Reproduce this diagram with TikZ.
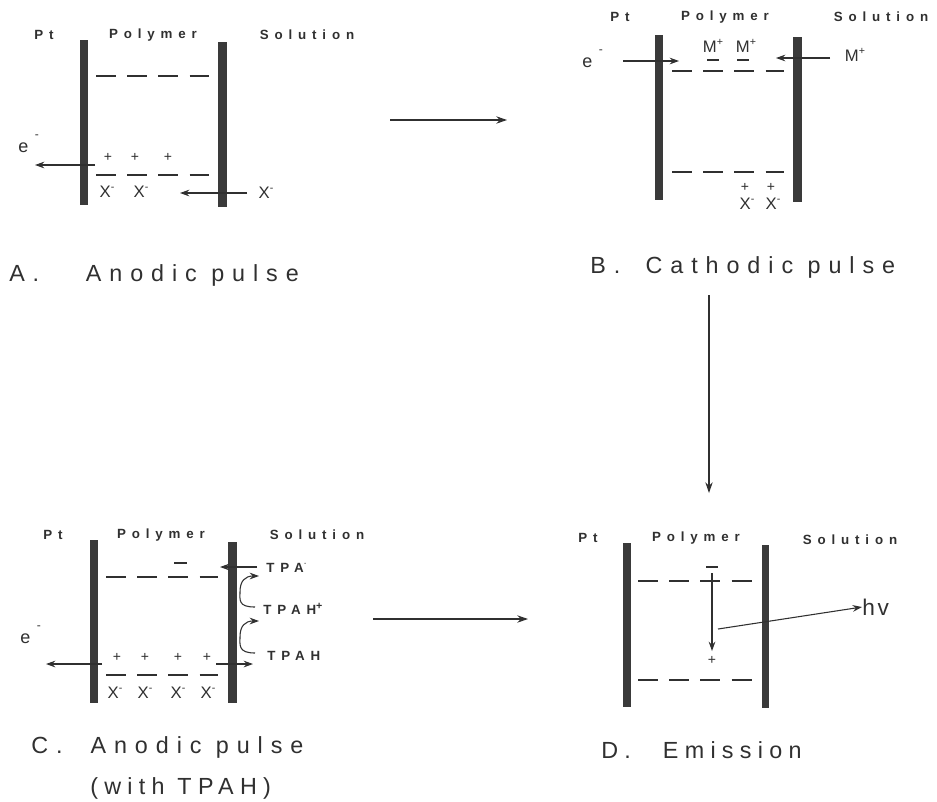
\documentclass[tikz,border=0pt]{standalone}
\usepackage{fontspec}
\setmainfont{Liberation Sans}
\usetikzlibrary{arrows.meta}
\newfontfamily\hdfont{Liberation Sans}[LetterSpace=44]
\newfontfamily\capfont{Liberation Sans}[LetterSpace=34]
\newfontfamily\capfontb{Liberation Sans}[LetterSpace=27]
\newfontfamily\lbfont{Liberation Sans}[LetterSpace=15]
\newfontfamily\hvfont{Liberation Sans}[LetterSpace=12]
\newcommand\chg[1]{\raisebox{0.42em}{\fontsize{8}{8}\selectfont #1}}
\newcommand\elec{e\hspace{5pt}\raisebox{10pt}{\fontsize{9}{9}\selectfont -}}
\definecolor{ink}{HTML}{303030}
\definecolor{barc}{HTML}{3A3A3A}
\tikzset{
 hd/.style={font=\hdfont\bfseries\fontsize{10}{12}\selectfont, text=ink, inner sep=0pt},
 captext/.style={font=\capfont\fontsize{17.5}{20}\selectfont, text=ink, inner sep=0pt, anchor=west},
 captextb/.style={font=\capfontb\fontsize{17.5}{20}\selectfont, text=ink, inner sep=0pt, anchor=west},
 lb/.style={font=\lbfont\fontsize{12.5}{14}\selectfont, text=ink, inner sep=0pt},
 pl/.style={font=\lbfont\fontsize{10.5}{12}\selectfont, text=ink, inner sep=0pt},
 el/.style={font=\lbfont\fontsize{13.5}{15}\selectfont, text=ink, inner sep=0pt, anchor=base west},
 level/.style={draw=ink, line width=1.1pt, dash pattern=on 15pt off 8.4pt},
 arr/.style={draw=ink, line width=0.8pt, -{Stealth[length=7pt,width=5pt]}},
 big/.style={draw=ink, line width=0.9pt, -{Stealth[length=8pt,width=5.5pt]}},
 tick/.style={draw=ink, line width=1pt},
}
\begin{document}
\begin{tikzpicture}[x=0.75pt,y=-0.75pt]
\fill[white] (0,0) rectangle (937,801);
\useasboundingbox (0,0) rectangle (937,801);

% ---------------- Panel A ----------------
\node[hd] (ptA) at (44,35) {Pt};
\node[hd] (polA) at (153,35) {Polymer};
\node[hd] (solA) at (307,35) {Solution};
\fill[barc] (80,40) rectangle (88,205);
\fill[barc] (218,42) rectangle (227,207);
\draw[level] (96,76) -- (209,76);
\draw[level] (96,175) -- (209,175);
\foreach \x in {108,135,168} \node[pl] at (\x,157) {+};
\node[lb] (xa1) at (107,192) {X\chg{-}};
\node[lb] (xa2) at (141,192) {X\chg{-}};
\node[el] (eA) at (18,152) {\elec};
\coordinate (eAs) at (95,165);
\coordinate (eAe) at (35,165);
\draw[arr] (eAs) -- (eAe);
\node[lb] (xA) at (266,193) {X\chg{-}};
\coordinate (xAs) at (247,193);
\coordinate (xAe) at (180,193);
\draw[arr] (xAs) -- (xAe);
\node[captext] (capA) at (9,275) {A.\hspace{35pt}Anodic pulse};

% ---------------- Panel B ----------------
\node[hd] (ptB) at (620,17) {Pt};
\node[hd] (polB) at (725,17) {Polymer};
\node[hd] (solB) at (881,17) {Solution};
\fill[barc] (655,35) rectangle (663,200);
\fill[barc] (793,37) rectangle (802,202);
\draw[level] (672,71) -- (784,71);
\draw[level] (672,172) -- (784,172);
\node[lb] (mB1) at (713,46) {M\chg{+}};
\node[lb] (mB2) at (746,46) {M\chg{+}};
\draw[tick] (707,60) -- (719,60);
\draw[tick] (737,60) -- (749,60);
\node[el] (eB) at (582,67) {\elec};
\coordinate (eBs) at (623,61);
\coordinate (eBe) at (679,61);
\draw[arr] (eBs) -- (eBe);
\node[lb] (mB) at (855,55) {M\chg{+}};
\coordinate (mBs) at (830,58);
\coordinate (mBe) at (776,58);
\draw[arr] (mBs) -- (mBe);
\node[pl] at (745,187) {+};
\node[pl] at (771,187) {+};
\node[lb] (xB1) at (747,204) {X\chg{-}};
\node[lb] (xB2) at (773,204) {X\chg{-}};
\node[captext] (capB) at (590,267) {B.\hspace{19pt}Cathodic pulse};

% ---------------- Panel C ----------------
\node[hd] (ptC) at (53,535) {Pt};
\node[hd] (polC) at (161,535) {Polymer};
\node[hd] (solC) at (317,535) {Solution};
\fill[barc] (90,540) rectangle (98,703);
\fill[barc] (228,542) rectangle (237,703);
\draw[level] (106,577) -- (218,577);
\draw[level] (106,675) -- (218,675);
\draw[tick] (174,563) -- (187,563);
\node[hd, anchor=west] (tpa) at (266,567) {TPA\chg{$\cdot$}};
\node[hd, anchor=west] (tpahp) at (263,609) {TPAH\chg{+}};
\node[hd, anchor=west] (tpah) at (267,656) {TPAH};
\coordinate (tpAs) at (257,567);
\coordinate (tpAe) at (220,567);
\draw[arr] (tpAs) -- (tpAe);
\coordinate (cs1) at (255,607);
\coordinate (ce1) at (259,576);
\draw[arr] (cs1) .. controls (238,607) and (240,600) .. (240,592) .. controls (240,581) and (245,576) .. (ce1);
\coordinate (cs2) at (255,653);
\coordinate (ce2) at (259,621);
\draw[arr] (cs2) .. controls (238,653) and (240,645) .. (240,637) .. controls (240,626) and (245,621) .. (ce2);
\foreach \x in {117,145,178,207} \node[pl] at (\x,657) {+};
\foreach \x in {115,145,178,208} \node[lb] at (\x,693) {X\chg{-}};
\node[el] (eC) at (20,643) {\elec};
\coordinate (eCs) at (102,664);
\coordinate (eCe) at (46,664);
\draw[arr] (eCs) -- (eCe);
\coordinate (hCs) at (216,664);
\coordinate (hCe) at (253,664);
\draw[arr] (hCs) -- (hCe);
\node[captext] (capC) at (31,747) {C.\hspace{21pt}Anodic pulse};
\node[captextb] (capC2) at (90,788) {(with TPAH)};

% ---------------- Panel D ----------------
\node[hd] (ptD) at (588,538) {Pt};
\node[hd] (polD) at (696,538) {Polymer};
\node[hd] (solD) at (850,540) {Solution};
\fill[barc] (623,543) rectangle (631,707);
\fill[barc] (762,545) rectangle (769,708);
\draw[level] (638,581) -- (753,581);
\draw[level] (638,680) -- (753,680);
\draw[tick] (706,567) -- (718,567);
\coordinate (dDs) at (712,573);
\coordinate (dDe) at (712,651);
\draw[arr] (dDs) -- (dDe);
\node[pl] at (712,660) {+};
\node[font=\hvfont\fontsize{17}{20}\selectfont, text=ink, inner sep=0pt, anchor=west] (hv) at (862,607) {hv};
\coordinate (hvs) at (718,629);
\draw[arr] (hvs) -- (hv.west);
\node[captextb] (capD) at (601,750) {D.\hspace{24pt}Emission};

% ---------------- process arrows ----------------
\coordinate (ab1) at (390,120);
\coordinate (ab2) at (507,120);
\draw[big] (ab1) -- (ab2);
\coordinate (bd1) at (709,295);
\coordinate (bd2) at (709,493);
\draw[big] (bd1) -- (bd2);
\coordinate (cd1) at (373,619);
\coordinate (cd2) at (528,619);
\draw[big] (cd1) -- (cd2);
\end{tikzpicture}
\end{document}
